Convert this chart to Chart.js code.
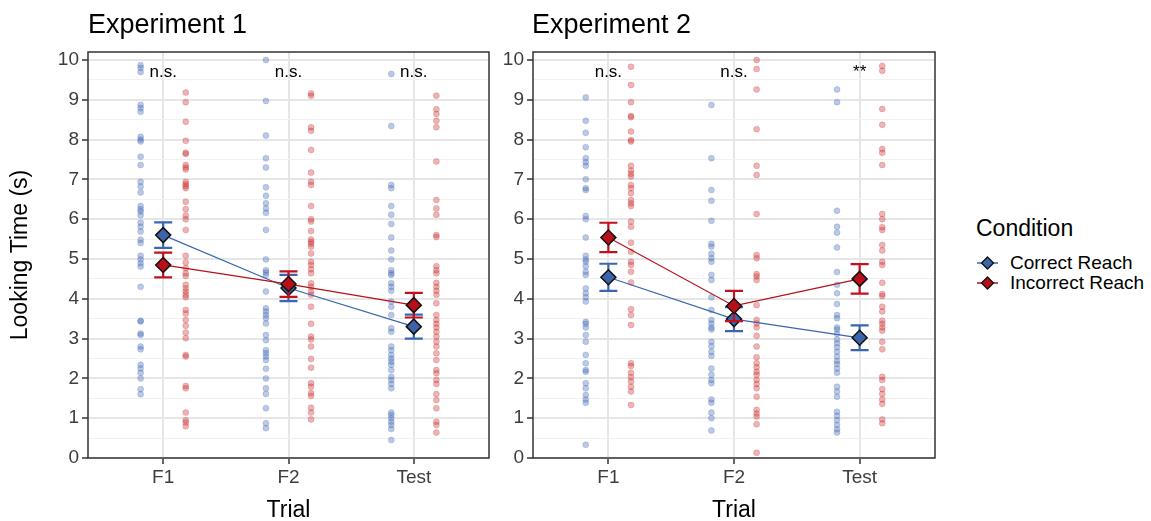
<!DOCTYPE html>
<html>
<head>
<meta charset="utf-8">
<script src="https://cdn.jsdelivr.net/npm/chart.js@4.4.1/dist/chart.umd.min.js"></script>
<style>
  body { margin: 0; background: #fff; width: 1151px; height: 521px; position: relative; overflow: hidden;
         font-family: "Liberation Sans", Arial, sans-serif; }
  .panel { position: absolute; top: 0; }
  .ptitle { position: absolute; top: 9px; font-size: 27px; line-height: 30px; color: #000; white-space: nowrap; }
  .legend-title { position: absolute; left: 976px; top: 214px; font-size: 23px; line-height: 28px; }
  .legend-item { position: absolute; left: 976px; font-size: 19px; line-height: 20px; white-space: nowrap; }
  .legend-item svg { position: absolute; left: 0; top: 0; }
  .legend-item span { position: absolute; left: 34px; top: 0; }
</style>
</head>
<body>
<div class="panel" style="left:0"><canvas id="exp1" width="498" height="524"></canvas></div>
<div class="panel" style="left:495px"><canvas id="exp2" width="449" height="524"></canvas></div>
<div class="ptitle" style="left:88px">Experiment 1</div>
<div class="ptitle" style="left:532px">Experiment 2</div>

<div class="legend-title">Condition</div>
<div class="legend-item" style="top:253px">
  <svg width="24" height="20"><line x1="1" y1="10" x2="22" y2="10" stroke="#3c66ad" stroke-width="1.5"/>
    <polygon points="11.5,4 17.5,10 11.5,16 5.5,10" fill="#3d63a8" stroke="#111" stroke-width="1.3"/></svg>
  <span>Correct Reach</span>
</div>
<div class="legend-item" style="top:273px">
  <svg width="24" height="20"><line x1="1" y1="10" x2="22" y2="10" stroke="#b5121b" stroke-width="1.5"/>
    <polygon points="11.5,4 17.5,10 11.5,16 5.5,10" fill="#b80f1a" stroke="#111" stroke-width="1.3"/></svg>
  <span>Incorrect Reach</span>
</div>

<script>
// ---- data ----
const trials = ["F1", "F2", "Test"];
const yTicks = [0, 1, 2, 3, 4, 5, 6, 7, 8, 9, 10];

// Experiment 1, individual looking times
const exp1F1Correct = [9.87,9.80,9.70,8.87,8.79,8.70,8.07,8.00,7.95,7.57,7.36,6.94,6.82,6.67,6.33,6.25,6.19,6.10,5.91,5.81,5.69,5.48,5.40,5.08,4.99,4.89,4.81,4.30,3.45,3.43,3.13,3.09,2.80,2.73,2.34,2.25,2.14,2.00,1.73,1.60];
const exp1F2Correct = [10.0,8.97,8.10,7.53,7.30,6.80,6.59,6.40,6.27,6.16,5.73,4.99,4.72,4.66,4.60,4.18,3.76,3.68,3.59,3.51,3.38,3.09,2.96,2.71,2.63,2.55,2.46,2.24,2.00,1.75,1.61,1.25,0.87,0.75];
const exp1TestCorrect = [9.65,8.34,6.86,6.78,6.33,6.11,5.88,5.54,5.21,4.99,4.72,4.64,4.60,4.39,4.30,4.20,3.93,3.80,3.59,3.26,3.17,2.80,2.71,2.59,2.50,2.42,2.34,2.21,2.04,1.96,1.86,1.75,1.14,1.08,1.00,0.91,0.83,0.73,0.45];
const exp1F1Incorrect = [9.18,8.94,8.45,7.97,7.67,7.64,7.36,7.30,7.25,6.94,6.88,6.83,6.78,6.44,6.25,6.09,6.00,5.73,5.08,4.91,4.77,4.64,4.57,4.35,4.26,4.18,4.10,4.04,3.72,3.63,3.47,3.32,3.15,3.01,2.59,2.55,1.81,1.75,1.14,0.95,0.89,0.80];
const exp1F2Incorrect = [9.16,9.10,8.31,8.22,7.74,7.17,6.94,6.86,6.33,6.00,5.94,5.70,5.49,5.43,5.38,5.31,5.14,4.93,4.85,4.74,4.64,4.39,4.30,4.18,4.10,3.80,3.37,3.05,2.98,2.80,2.49,2.27,1.88,1.79,1.63,1.56,1.26,1.14,0.97];
const exp1TestIncorrect = [9.10,8.76,8.64,8.47,8.31,7.45,6.48,6.27,6.11,5.60,5.55,4.82,4.72,4.64,4.40,4.30,4.20,4.10,3.89,3.59,3.47,3.37,3.28,3.17,3.05,2.92,2.80,2.63,2.46,2.21,2.13,1.96,1.86,1.61,1.46,1.25,0.91,0.83,0.64];

// Experiment 2, individual looking times
const exp2F1Correct = [9.06,8.47,8.17,7.81,7.53,7.43,7.34,7.00,6.78,6.73,6.08,6.00,5.54,5.08,4.99,4.93,4.82,4.68,4.60,4.26,4.14,4.04,3.93,3.42,3.37,3.28,3.09,2.92,2.59,2.38,2.21,2.17,1.88,1.75,1.58,1.47,1.39,0.33];
const exp2F2Correct = [8.87,7.53,6.73,6.46,5.96,5.38,5.31,5.13,5.02,4.93,4.60,4.47,4.04,3.72,3.47,3.38,3.28,3.23,2.92,2.81,2.67,2.56,2.25,2.09,1.96,1.88,1.47,1.39,1.14,1.00,0.69];
const exp2TestCorrect = [9.26,8.94,6.21,5.81,5.66,5.29,4.67,4.35,4.14,3.87,3.59,3.51,3.28,3.23,3.12,2.98,2.88,2.78,2.67,2.55,2.44,2.36,2.25,2.14,1.79,1.67,1.54,1.16,1.06,0.95,0.83,0.72,0.64];
const exp2F1Incorrect = [9.83,9.37,8.94,8.59,8.56,8.20,7.99,7.95,7.34,7.22,7.14,7.07,6.86,6.78,6.65,6.48,6.40,6.33,5.94,5.81,5.41,5.18,4.93,4.85,4.68,4.41,3.74,3.59,3.34,2.38,2.31,2.14,2.03,1.92,1.79,1.67,1.33];
const exp2F2Incorrect = [10.0,9.77,9.26,8.26,7.34,7.11,6.13,5.10,5.02,4.62,4.56,4.47,3.84,3.47,3.38,3.28,3.07,2.80,2.53,2.38,2.28,2.17,2.09,1.96,1.86,1.75,1.54,1.21,1.12,1.04,0.85,0.13];
const exp2TestIncorrect = [9.85,9.73,8.77,8.37,7.76,7.67,7.36,6.13,6.00,5.80,5.73,5.35,5.21,4.93,4.85,4.40,4.12,4.07,3.80,3.68,3.45,3.37,3.28,3.20,2.92,2.73,2.04,1.96,1.73,1.61,1.47,1.36,0.97,0.87];

// means and standard errors per trial
const exp1CorrectMean = [5.60, 4.27, 3.30];
const exp1CorrectSE = [0.32, 0.33, 0.30];
const exp1IncorrectMean = [4.85, 4.37, 3.84];
const exp1IncorrectSE = [0.31, 0.32, 0.31];
const exp2CorrectMean = [4.54, 3.49, 3.02];
const exp2CorrectSE = [0.34, 0.30, 0.31];
const exp2IncorrectMean = [5.54, 3.82, 4.50];
const exp2IncorrectSE = [0.37, 0.38, 0.37];

// significance labels per trial
const exp1Sig = ["n.s.", "n.s.", "n.s."];
const exp2Sig = ["n.s.", "n.s.", "**"];

// ---- styling ----
const FONT = '"Liberation Sans", Arial, sans-serif';
const TICK_COL = "#3d3d3d";
const BLUE = { pt: "rgba(60,100,180,0.35)", line: "#3c66ad", fill: "#3d63a8", bar: "#3a66b1" };
const RED = { pt: "rgba(200,40,40,0.35)", line: "#b5121b", fill: "#b80f1a", bar: "#c0121e" };
const DODGE = 0.18;
const SIG_Y = 9.7;

function raw(groups, offset) {
  const pts = [];
  groups.forEach((vals, i) => vals.forEach(v => pts.push({ x: i + 1 + offset, y: v })));
  return pts;
}

function scatterSet(groups, offset, col) {
  return {
    data: raw(groups, offset), showLine: false,
    pointRadius: 3, pointBackgroundColor: col.pt, pointBorderColor: col.pt, pointBorderWidth: 0.6
  };
}

function meanSet(means, se, col) {
  return {
    data: means.map((m, i) => ({ x: i + 1, y: m })), errors: se, barColor: col.bar,
    showLine: true, borderColor: col.line, borderWidth: 1.2,
    pointStyle: "rectRot", pointRadius: 7.5, pointBackgroundColor: col.fill,
    pointBorderColor: "#111", pointBorderWidth: 1.5
  };
}

// error bars drawn just under their mean line/diamonds
const errorBars = {
  id: "errorBars",
  beforeDatasetDraw(chart, args) {
    const ds = chart.data.datasets[args.index];
    if (!ds.errors) return;
    const { x, y } = chart.scales;
    const ctx = chart.ctx;
    ctx.save();
    ctx.strokeStyle = ds.barColor;
    ctx.lineWidth = 2.2;
    ds.data.forEach((p, i) => {
      const px = x.getPixelForValue(p.x);
      const top = y.getPixelForValue(p.y + ds.errors[i]);
      const bot = y.getPixelForValue(p.y - ds.errors[i]);
      ctx.beginPath();
      ctx.moveTo(px, top); ctx.lineTo(px, bot);
      ctx.moveTo(px - 9, top); ctx.lineTo(px + 9, top);
      ctx.moveTo(px - 9, bot); ctx.lineTo(px + 9, bot);
      ctx.stroke();
    });
    ctx.restore();
  }
};

// significance text + panel border
const panelExtras = {
  id: "panelExtras",
  afterDatasetsDraw(chart, args, opts) {
    const { x, y } = chart.scales;
    const ctx = chart.ctx;
    ctx.save();
    ctx.fillStyle = "#000";
    ctx.font = "17px " + FONT;
    ctx.textAlign = "center";
    ctx.textBaseline = "middle";
    opts.labels.forEach((t, i) => ctx.fillText(t, x.getPixelForValue(i + 1), y.getPixelForValue(SIG_Y)));
    const a = chart.chartArea;
    ctx.strokeStyle = "#333";
    ctx.lineWidth = 1.5;
    ctx.strokeRect(a.left, a.top, a.right - a.left, a.bottom - a.top);
    ctx.restore();
  }
};

function makeChart(id, correct, incorrect, cMean, cSE, iMean, iSE, sig, yWidth, showYTitle) {
  const isMinor = v => Math.abs(v - Math.round(v)) > 1e-6;
  return new Chart(document.getElementById(id), {
    type: "scatter",
    data: {
      datasets: [
        meanSet(iMean, iSE, RED),
        meanSet(cMean, cSE, BLUE),
        scatterSet(correct, -DODGE, BLUE),
        scatterSet(incorrect, DODGE, RED)
      ]
    },
    options: {
      responsive: false,
      animation: false,
      layout: { padding: { top: 52, right: 2, left: 0, bottom: 0 } },
      plugins: { legend: { display: false }, tooltip: { enabled: false }, panelExtras: { labels: sig } },
      scales: {
        x: {
          type: "linear", min: 0.4, max: 3.6,
          afterBuildTicks: s => { s.ticks = trials.map((t, i) => ({ value: i + 1 })); },
          afterFit: s => { s.height = 66; s.paddingLeft = 0; s.paddingRight = 0; },
          ticks: { autoSkip: false, maxRotation: 0, padding: 2, color: TICK_COL,
                   font: { size: 19, family: FONT }, callback: v => trials[Math.round(v) - 1] },
          grid: { color: "#e6e6e6", lineWidth: 2, tickColor: "#333", tickWidth: 1.5, tickLength: 6 },
          border: { display: false },
          title: { display: true, text: "Trial", color: "#000", font: { size: 23, family: FONT },
                   padding: { top: 0, bottom: 0 } }
        },
        y: {
          type: "linear", min: 0, max: 10.2,
          afterBuildTicks: s => {
            const t = [];
            yTicks.forEach((v, i) => { t.push({ value: v }); if (i < yTicks.length - 1) t.push({ value: (v + yTicks[i + 1]) / 2 }); });
            s.ticks = t;
          },
          afterFit: s => { s.width = yWidth; },
          ticks: { autoSkip: false, padding: 3, color: TICK_COL, font: { size: 19, family: FONT },
                   callback: v => isMinor(v) ? "" : v },
          grid: {
            color: c => isMinor(c.tick.value) ? "#f1f1f1" : "#e6e6e6",
            lineWidth: c => isMinor(c.tick.value) ? 1 : 2,
            tickColor: c => isMinor(c.tick.value) ? "rgba(0,0,0,0)" : "#333",
            tickWidth: 1.5, tickLength: 6
          },
          border: { display: false },
          title: { display: showYTitle, text: "Looking Time (s)", color: "#000", font: { size: 23, family: FONT },
                   padding: { top: 7, bottom: 0 } }
        }
      }
    },
    plugins: [errorBars, panelExtras]
  });
}

makeChart("exp1",
  [exp1F1Correct, exp1F2Correct, exp1TestCorrect],
  [exp1F1Incorrect, exp1F2Incorrect, exp1TestIncorrect],
  exp1CorrectMean, exp1CorrectSE, exp1IncorrectMean, exp1IncorrectSE, exp1Sig, 88, true);

makeChart("exp2",
  [exp2F1Correct, exp2F2Correct, exp2TestCorrect],
  [exp2F1Incorrect, exp2F2Incorrect, exp2TestIncorrect],
  exp2CorrectMean, exp2CorrectSE, exp2IncorrectMean, exp2IncorrectSE, exp2Sig, 38, false);
</script>
</body>
</html>
